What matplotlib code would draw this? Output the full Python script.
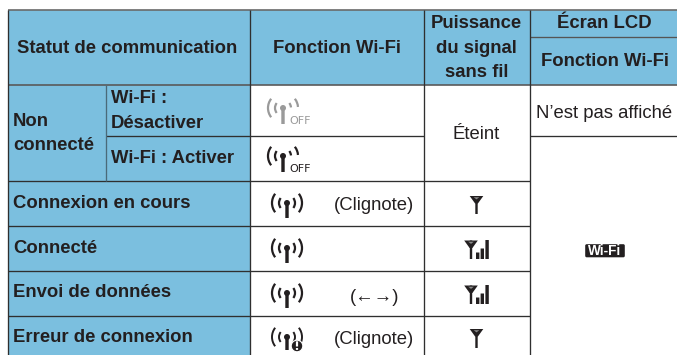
#!/usr/bin/env python3
"""Wi-Fi status table, drawn on an axes that counts in image pixels."""
import matplotlib
matplotlib.use("Agg")
import matplotlib.pyplot as plt
from matplotlib.patches import Arc, Circle, FancyBboxPatch, Polygon, Rectangle

W, H = 677, 355
BLUE = "#7bbfdf"
INK = "#231f20"
LINE = "#2f2f2f"
GREY = "#9a9a9a"
FS = 13.35

# table grid
COLS = [7.5, 105.5, 249.5, 423.5, 529.5, 677]
ROWS = [10, 84.5, 135.5, 180.5, 225.5, 270.5, 315.5, 355]
HEADER_SPLIT = 36.5

row_labels = ["Connexion en cours", "Connecté", "Envoi de données", "Erreur de connexion"]
row_baselines = [208.3, 252.7, 297.2, 342]
blink_labels = ["(Clignote)", "(←→)", "(Clignote)"]
blink_x = [374, 375, 374]
blink_y = [210, 301.5, 344.5]
header_labels = ["Puissance", "du signal", "sans fil"]
header_baselines = [28, 53, 77]
wave_dots_y = [203, 248, 293]
bar_rows_top = [240.5, 285.5]

plt.rcParams["font.family"] = ["Liberation Sans", "DejaVu Sans"]
fig = plt.figure(figsize=(W / 100, H / 100), dpi=100)
ax = fig.add_axes([0, 0, 1, 1])
ax.set_xlim(0, W)
ax.set_ylim(H, 0)
ax.axis("off")


def hline(x0, x1, y, color=LINE, lw=0.95):
    ax.plot([x0, x1], [y, y], color=color, lw=lw, solid_capstyle="butt", zorder=3)


def vline(x, y0, y1, color=LINE, lw=0.95):
    ax.plot([x, x], [y0, y1], color=color, lw=lw, solid_capstyle="butt", zorder=3)


def bold(x, y, s, ha="left", size=FS):
    ax.text(x, y, s, ha=ha, va="baseline", fontsize=size, fontweight="bold", color=INK, zorder=5)


def plain(x, y, s, ha="center", size=FS):
    ax.text(x, y, s, ha=ha, va="baseline", fontsize=size, color=INK, zorder=5)


def box(x, y, w, h, color=INK, z=4):
    ax.add_patch(Rectangle((x, y), w, h, fc=color, ec="none", snap=False, zorder=z))


def waves(x, y, color=INK, right=True, lw=1.6):
    for r, half in [(8, 38), (15, 38)]:
        ax.add_patch(Arc((x, y), 2 * r, 2 * r, theta1=180 - half, theta2=180 + half,
                         color=color, lw=lw, zorder=4))
        if right:
            ax.add_patch(Arc((x, y), 2 * r, 2 * r, theta1=-half, theta2=half,
                             color=color, lw=lw, zorder=4))


def antenna(x, y, bottom, color=INK):
    ax.add_patch(Circle((x, y), 3, fc=color, ec="none", zorder=4))
    box(x - 1.7, y, 3.4, bottom - y, color)


def off_icon(x, y, bottom, color):
    waves(x, y, color=color, right=False)
    # only the upper part of the right arcs shows above the OFF mark (y axis is inverted)
    for r in (8, 15):
        ax.add_patch(Arc((x, y), 2 * r, 2 * r, theta1=-38, theta2=-4, color=color, lw=1.6, zorder=4))
    antenna(x, y, bottom, color)
    ax.text(x + 6.6, bottom + 0.5, "OFF", fontsize=8, color=color, ha="left", va="baseline",
            family="Liberation Sans Narrow", zorder=5)


def signal(x, top, bottom, bars=False):
    ax.add_patch(Polygon([(x - 6.8, top), (x + 6.8, top), (x + 1.4, top + 7.5), (x - 1.4, top + 7.5)],
                         closed=True, fc=INK, ec="none", zorder=4))
    ax.add_patch(Polygon([(x - 2.8, top + 1.2), (x + 2.8, top + 1.2), (x, top + 3.4)],
                         closed=True, fc="#8a8a8a", ec="none", zorder=5))
    box(x - 1.2, top, 2.4, bottom - top)
    if bars:
        for dx, h in [(5.0, 6.5), (9.6, 10.5), (14.4, 19)]:
            box(x + dx, bottom - h, 3.4, h)


# blue fills
ax.add_patch(Rectangle((COLS[0], ROWS[0]), COLS[-1] - COLS[0], ROWS[1] - ROWS[0], fc=BLUE, ec="none"))
ax.add_patch(Rectangle((COLS[0], ROWS[1]), COLS[2] - COLS[0], H - ROWS[1], fc=BLUE, ec="none"))

# grid lines
hline(COLS[0], W, ROWS[0], "#6a6a6a", 1.2)
hline(COLS[0], W, ROWS[1], "#5a5a5a", 1.2)
hline(COLS[4], W, HEADER_SPLIT, "#555555")
hline(COLS[1], COLS[3], ROWS[2])
hline(COLS[4], W, ROWS[2])
for y in ROWS[3:7]:
    hline(COLS[0], COLS[4], y)
vline(COLS[0], ROWS[0], H)
vline(COLS[1], ROWS[1], ROWS[3], "#4a6a7a")
for x in COLS[2:5]:
    vline(x, ROWS[0], H)

# header
bold(17, 52.7, "Statut de communication")
bold(336.5, 52.7, "Fonction Wi-Fi", ha="center")
for s, y in zip(header_labels, header_baselines):
    bold(476.5, y, s, ha="center")
bold(604.5, 28, "Écran LCD", ha="center")
bold(604.5, 65.7, "Fonction Wi-Fi", ha="center")

# left labels
bold(13, 126, "Non")
bold(13, 150, "connecté")
bold(111, 103, "Wi-Fi :")
bold(111, 127.7, "Désactiver")
bold(111, 163, "Wi-Fi : Activer")
for s, y in zip(row_labels, row_baselines):
    bold(13, y, s)

# body text
plain(476.5, 139, "Éteint")
plain(604.5, 117.7, "N’est pas affiché")
for s, x, y in zip(blink_labels, blink_x, blink_y):
    plain(x, y, s)

# Wi-Fi column icons
off_icon(283, 108, 124, GREY)
off_icon(283, 156, 172, INK)
for y in wave_dots_y:
    waves(287, y)
    antenna(287, y, y + 15)
waves(287, 337, lw=1.4)
antenna(287, 337, 350)
ax.add_patch(Circle((297, 346), 5.8, fc=INK, ec="white", lw=0.8, zorder=5))
box(295.9, 341.3, 2.2, 5.2, "white", 6)
box(295.9, 348, 2.2, 1.9, "white", 6)

# signal column icons
signal(476.5, 196, 214)
for top in bar_rows_top:
    signal(471, top, top + 18.5, bars=True)
signal(476.5, 329, 348)

# LCD badge
ax.add_patch(FancyBboxPatch((586, 245), 38, 11.5, boxstyle="round,pad=0.8,rounding_size=1.5",
                            fc=INK, ec="none", zorder=4))
ax.text(605, 255, "Wi-Fi", color="white", fontsize=9.8, fontweight="bold", ha="center",
        va="baseline", zorder=5)

fig.savefig("out.png", dpi=100)
